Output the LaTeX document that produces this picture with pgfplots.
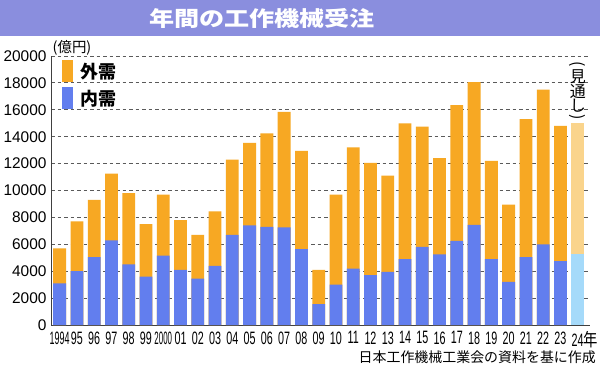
\documentclass[border=0pt]{standalone}
\usepackage{pgfplots}
\usepackage{pgfplotstable}
\pgfplotsset{compat=1.18}
\usepackage{fontspec}
\usepackage{graphicx}
\setmainfont{Liberation Sans}
\newfontfamily\jp{Noto Sans CJK JP}
\definecolor{ordcol}{RGB}{247,168,35}
\definecolor{blucol}{RGB}{98,126,238}
\definecolor{ordlt}{RGB}{250,212,140}
\definecolor{blult}{RGB}{165,218,250}
\definecolor{titlebg}{RGB}{138,142,222}
\definecolor{gridc}{RGB}{90,90,90}
\newcommand{\xl}[2][0.6]{\scalebox{#1}[1]{#2}}
\newcommand{\vtext}{\vbox{\offinterlineskip\halign{\hfil##\hfil\cr \rotatebox{-90}{(}\cr\noalign{\kern2bp} 見\cr\noalign{\kern1bp} 通\cr\noalign{\kern1bp} し\cr\noalign{\kern2bp} \rotatebox{-90}{)}\cr}}}

\pgfplotstableread{
x total dom
0 5700 3100
1 7700 4000
2 9300 5050
3 11250 6300
4 9800 4500
5 7500 3600
6 9700 5150
7 7800 4100
8 6700 3450
9 8450 4400
10 12300 6700
11 13550 7400
12 14250 7300
13 15850 7250
14 12950 5650
15 4100 1550
16 9700 3000
17 13200 4200
18 12050 3700
19 11100 3950
20 15000 4900
21 14750 5800
22 12400 5250
23 16350 6250
24 18050 7450
25 12200 4900
26 8950 3200
27 15300 5050
28 17500 6000
29 14800 4750
}\orders

\begin{document}
\begin{tikzpicture}[x=1bp,y=1bp]
\useasboundingbox (0,0) rectangle (600,367);
\fill[white] (0,0) rectangle (600,367);
\fill[titlebg] (0,331) rectangle (600,367);
\node[text=white, font=\jp\bfseries\fontsize{21}{24}\selectfont] at (262,349) {\scalebox{1.2}[1]{年間の工作機械受注}};
\begin{axis}[
  at={(51bp,42bp)}, anchor=south west, scale only axis,
  width=538.8bp, height=269bp,
  xmin=-0.5, xmax=30.7, ymin=0, ymax=20000,
  enlargelimits=false,
  scaled y ticks=false,
  ybar, bar width=12.8bp,
  axis lines=left, axis line style={-, draw=black!75, line width=1bp},
  ymajorgrids, grid style={dash pattern=on 3.5bp off 3bp, draw=gridc, line width=0.9bp},
  ytick={0,2000,...,20000},
  xtick={0,...,30},
  xticklabels={\xl[0.5]{1994},\xl{95},\xl{96},\xl{97},\xl{98},\xl{99},\xl[0.44]{2000},\xl{01},\xl{02},\xl{03},\xl{04},\xl{05},\xl{06},\xl{07},\xl{08},\xl{09},\xl{10},\xl{11},\xl{12},\xl{13},\xl{14},\xl{15},\xl{16},\xl{17},\xl{18},\xl{19},\xl{20},\xl{21},\xl{22},\xl{23},\xl{24}\rlap{\jp\scalebox{0.8}[1]{年}}},
  major tick length=0pt,
  /pgf/number format/assume math mode=true,
  /pgf/number format/1000 sep={},
  yticklabel style={font=\fontsize{15.5}{15.5}\selectfont, xshift=-1bp},
  xticklabel style={font=\fontsize{18}{18}\selectfont, yshift=-3bp},
  legend style={at={(0.0204,0.985)}, anchor=north west, draw=none, fill=none, inner sep=0pt, row sep=5bp, column sep=7bp, font=\jp\bfseries\fontsize{18}{18}\selectfont, nodes={inner sep=0pt}},
  legend image code/.code={\fill[#1,draw=none] (0bp,-11bp) rectangle (11bp,11bp);},
  clip=false,
]
\addplot[fill=ordcol, draw=none, bar shift=0pt] table[x=x, y=total] {\orders};
\addlegendentry{外需}
\addplot[fill=blucol, draw=none, bar shift=0pt] table[x=x, y=dom] {\orders};
\addlegendentry{内需}
\addplot[fill=ordlt, draw=none, bar shift=0pt, forget plot] coordinates {(30,15000)};
\addplot[fill=blult, draw=none, bar shift=0pt, forget plot] coordinates {(30,5250)};
\node[font=\jp\fontsize{16}{16}\selectfont, inner sep=0pt] at (axis cs:30,17400) {\vtext};
\end{axis}
\node[font=\jp\fontsize{14.5}{14.5}\selectfont] at (72,319) {(億円)};
\node[font=\jp\fontsize{14}{14}\selectfont, anchor=east, inner sep=0pt] at (596,10) {日本工作機械工業会の資料を基に作成};
\end{tikzpicture}
\end{document}
